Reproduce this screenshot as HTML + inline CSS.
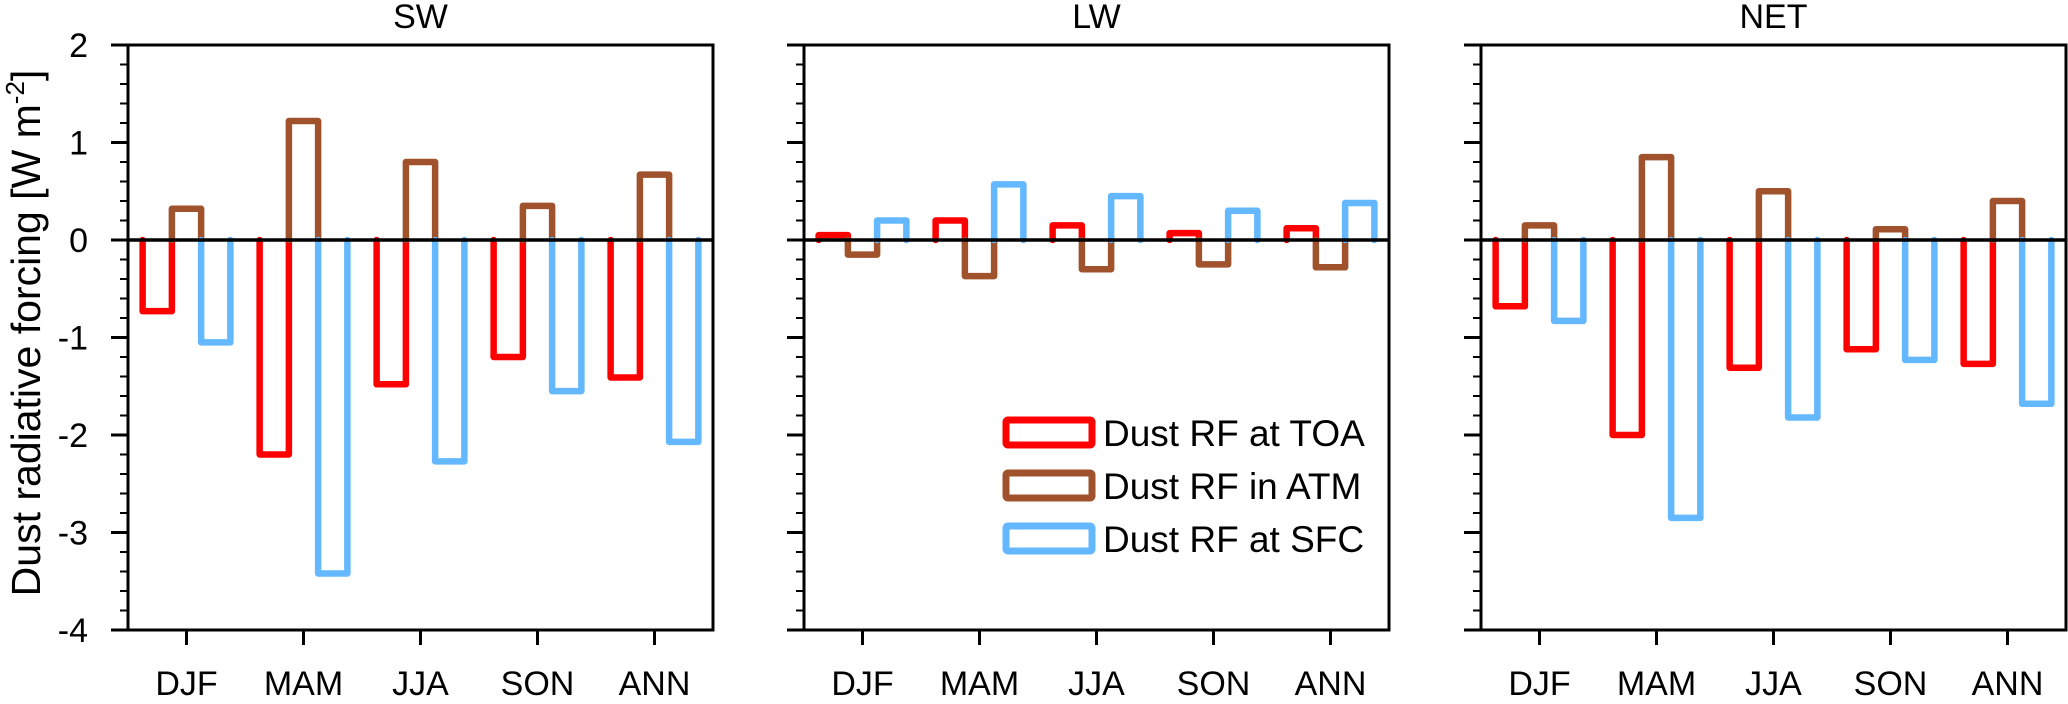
<!DOCTYPE html>
<html><head><meta charset="utf-8"><style>
body{margin:0;background:#fff}
svg text{font-family:"Liberation Sans",sans-serif;fill:#000}
</style></head><body>
<svg id="chart" width="2068" height="699" viewBox="0 0 2068 699" xmlns="http://www.w3.org/2000/svg">
<text transform="translate(40,333) rotate(-90)" text-anchor="middle" font-size="41">Dust radiative forcing [W m<tspan dy="-16" font-size="26">-2</tspan><tspan dy="16">]</tspan></text>
<g id="legend">
<g><rect x="1006" y="420" width="86" height="25" fill="none" stroke="#ff0000" stroke-width="7" rx="2"/><text x="1103" y="446" font-size="37">Dust RF at TOA</text></g>
<g><rect x="1006" y="473" width="86" height="25" fill="none" stroke="#a0522d" stroke-width="7" rx="2"/><text x="1103" y="499" font-size="37">Dust RF in ATM</text></g>
<g><rect x="1006" y="526" width="86" height="25" fill="none" stroke="#63b8ff" stroke-width="7" rx="2"/><text x="1103" y="552" font-size="37">Dust RF at SFC</text></g>
</g>
</svg>
<script>
const categories = ["DJF","MAM","JJA","SON","ANN"];
const panelTitles = ["SW","LW","NET"];
const yTicks = [2,1,0,-1,-2,-3,-4];
const seriesNames = ["TOA","ATM","SFC"];
const swTOA = [-0.73,-2.2,-1.48,-1.2,-1.41];
const swATM = [0.32,1.22,0.8,0.35,0.67];
const swSFC = [-1.05,-3.42,-2.27,-1.55,-2.07];
const lwTOA = [0.05,0.2,0.15,0.07,0.12];
const lwATM = [-0.15,-0.37,-0.3,-0.25,-0.28];
const lwSFC = [0.2,0.57,0.45,0.3,0.38];
const netTOA = [-0.68,-2.0,-1.31,-1.12,-1.27];
const netATM = [0.15,0.85,0.5,0.11,0.4];
const netSFC = [-0.83,-2.85,-1.82,-1.23,-1.68];

const panelData = [[swTOA,swATM,swSFC],[lwTOA,lwATM,lwSFC],[netTOA,netATM,netSFC]];
const colors = ["#ff0000","#a0522d","#63b8ff"];
const NS = "http://www.w3.org/2000/svg";
const svgEl = document.getElementById('chart');
const legendEl = document.getElementById('legend');
const panelLefts = [128,804,1481];
const pw = 585, plotTop = 45, plotBottom = 630, yMax = 2, yMin = -4;
function yScale(v){ return plotTop + (yMax - v) / (yMax - yMin) * (plotBottom - plotTop); }
function mk(tag, attrs, parent){ const e = document.createElementNS(NS, tag); for (const k in attrs) e.setAttribute(k, attrs[k]); if (parent) parent.appendChild(e); else svgEl.insertBefore(e, legendEl); return e; }

panelTitles.forEach((title, p) => {
  const L = panelLefts[p], R = L + pw;
  const band = pw / categories.length;
  const xScale = i => L + band * (i + 0.5);
  const g = mk('g', {});
  
  
  const t = mk('text', {x: (L+R)/2, y: 28, 'text-anchor': 'middle', 'font-size': 34}, g);
  t.textContent = title;
  
  
  const bw = band / 4;
  panelData[p].forEach((series, s) => {
    series.forEach((v, i) => {
      const x0 = xScale(i) - 1.5*bw + s*bw, x1 = x0 + bw;
      const y0 = yScale(0), y1 = yScale(v);
      const path = mk('path', {d: `M${x0},${y0} V${y1} H${x1} V${y0}`, fill: 'none', stroke: colors[s], 'stroke-width': 6.5, 'stroke-linejoin': 'round', 'stroke-linecap': 'round'}, g);
      
      
    });
  });
  const z = mk('line', {x1: L, x2: R, y1: yScale(0), y2: yScale(0), stroke: '#000', 'stroke-width': 3.5}, g);
  
  
  const fr = mk('rect', {x: L, y: plotTop, width: pw, height: plotBottom - plotTop, fill: 'none', stroke: '#000', 'stroke-width': 3}, g);
  
  
  for (let k = 0; k <= 30; k++) {
    const v = yMax - k * 0.2;
    const major = k % 5 === 0;
    const tl = mk('line', {x1: L - (major ? 17 : 8), x2: L, y1: yScale(v), y2: yScale(v), stroke: '#000', 'stroke-width': major ? 3 : 2}, g);
    
    
  }
  if (p === 0) {
    yTicks.forEach(v => {
      const lt = mk('text', {x: 88, y: yScale(v) + 12, 'text-anchor': 'end', 'font-size': 34}, g);
      lt.textContent = String(v);
      
      
    });
  }
  categories.forEach((c, i) => {
    const xt = mk('line', {x1: xScale(i), x2: xScale(i), y1: plotBottom, y2: plotBottom + 15, stroke: '#000', 'stroke-width': 3}, g);
    
    
    const xl = mk('text', {x: xScale(i), y: 695, 'text-anchor': 'middle', 'font-size': 34}, g);
    xl.textContent = c;
    
    
  });
});
</script>
</body></html>
